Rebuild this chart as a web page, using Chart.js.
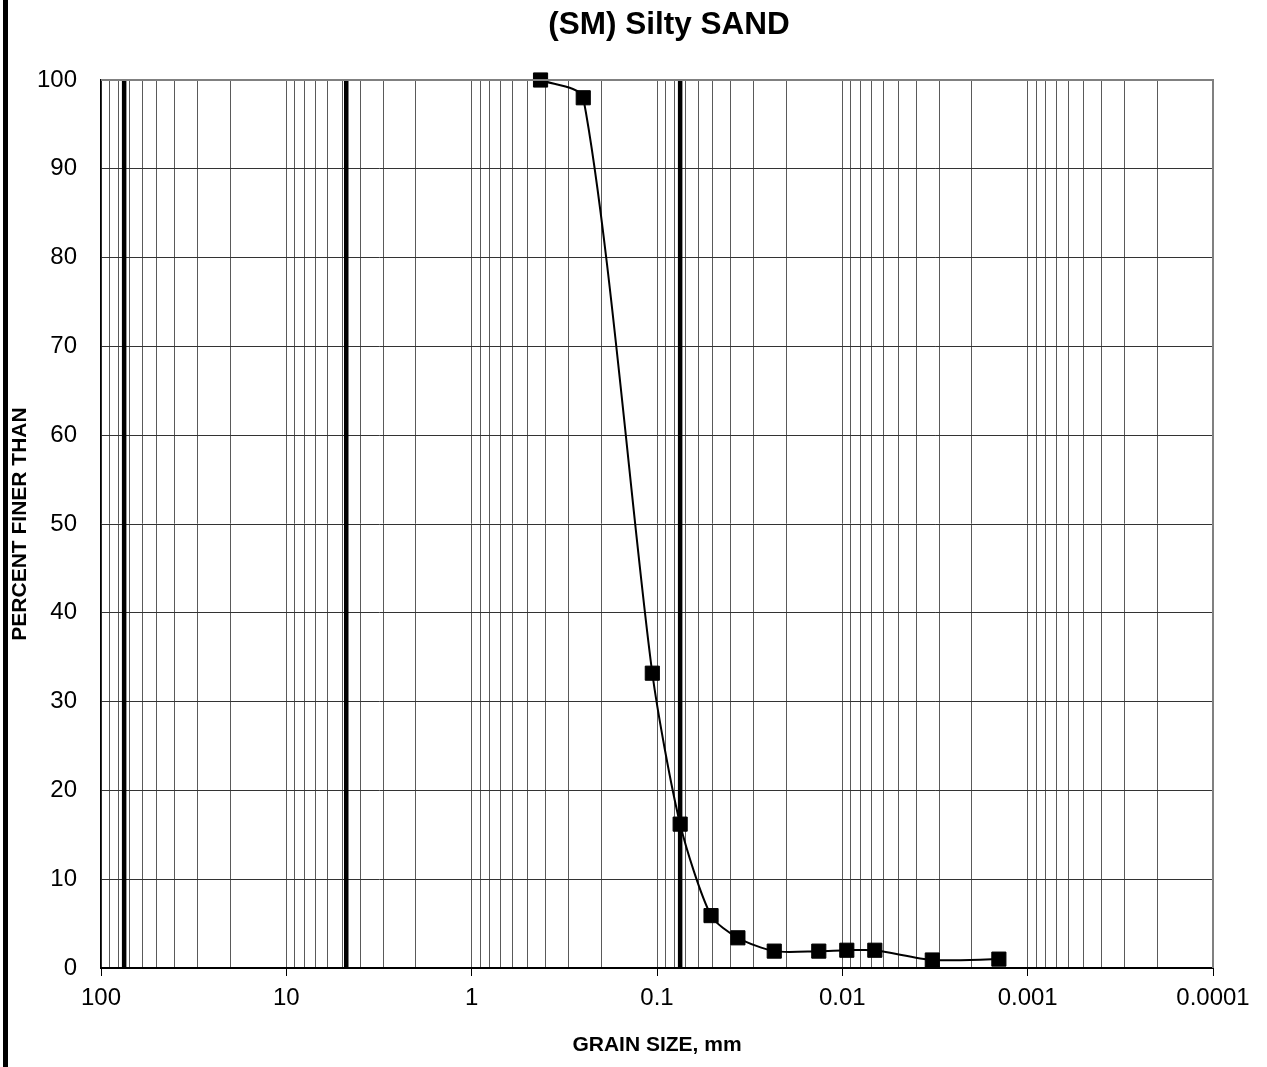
<!DOCTYPE html>
<html><head><meta charset="utf-8">
<script src="https://cdn.jsdelivr.net/npm/chart.js@4.4.1/dist/chart.umd.min.js"></script>
<style>html,body{margin:0;padding:0;background:#fff;overflow:hidden}</style>
</head><body>
<canvas id="c" width="1267" height="1067"></canvas>
<script>
// ---- data ----
const grainSizes   = [0.425, 0.25, 0.106, 0.075, 0.0511, 0.0366, 0.0233, 0.0134, 0.00946, 0.00668, 0.00327, 0.00143];
const percentFiner = [100, 98, 33.2, 16.2, 5.9, 3.4, 1.9, 1.9, 2.0, 2.0, 0.9, 1.0];
const sieveLines   = [75, 4.75, 0.075];
const xMajorTicks  = [100, 10, 1, 0.1, 0.01, 0.001, 0.0001];
const xTickLabels  = ['100', '10', '1', '0.1', '0.01', '0.001', '0.0001'];
const yTickValues  = [0, 10, 20, 30, 40, 50, 60, 70, 80, 90, 100];
const titleText = '(SM) Silty SAND';
const xTitleText = 'GRAIN SIZE, mm';
const yTitleText = 'PERCENT FINER THAN';

// full log grid (1..9 x each decade)
const gridValues = [];
xMajorTicks.slice(1).forEach(d => {
  for (let k = 1; k <= 9; k++) gridValues.push(parseFloat((d * k).toPrecision(6)));
});
gridValues.push(xMajorTicks[0]);

const FONT = "'Liberation Sans', Arial, sans-serif";

const sieveDatasets = sieveLines.map(v => ({
  data: [{x: v, y: yTickValues[0]}, {x: v, y: yTickValues[yTickValues.length - 1]}],
  borderColor: '#000', borderWidth: 4.5, pointRadius: 0, tension: 0, fill: false
}));

const framePlugin = {
  id: 'frame',
  beforeDraw(chart) {
    const ctx = chart.ctx;
    ctx.save();
    ctx.fillStyle = '#fff';
    ctx.fillRect(0, 0, chart.width, chart.height);
    ctx.fillStyle = '#000';
    ctx.fillRect(3, 0, 5, chart.height);
    ctx.restore();
  },
  afterDraw(chart) {
    const {ctx, chartArea: a} = chart;
    ctx.save();
    ctx.strokeStyle = '#808080';
    ctx.lineWidth = 2;
    ctx.beginPath();
    ctx.moveTo(a.left, a.top);
    ctx.lineTo(a.right, a.top);
    ctx.lineTo(a.right, a.bottom);
    ctx.stroke();
    // chart title
    ctx.fillStyle = '#000';
    ctx.font = "bold 31.5px " + FONT;
    ctx.textAlign = 'center';
    ctx.textBaseline = 'middle';
    ctx.fillText(titleText, (a.left + a.right) / 2 + 12, 25);
    ctx.restore();
  }
};

new Chart(document.getElementById('c'), {
  type: 'line',
  data: {
    datasets: [{
      data: grainSizes.map((g, i) => ({x: g, y: percentFiner[i]})),
      borderColor: '#000', borderWidth: 2, tension: 0.25, clip: false,
      pointStyle: 'rect', pointRadius: 10, pointBackgroundColor: '#000',
      pointBorderColor: '#000', pointBorderWidth: 1, fill: false
    }, ...sieveDatasets]
  },
  options: {
    responsive: false, animation: false, devicePixelRatio: 1,
    layout: {padding: {left: 0, right: 54, top: 80, bottom: 0}},
    plugins: {
      legend: {display: false}, tooltip: {enabled: false}, title: {display: false}
    },
    scales: {
      x: {
        type: 'logarithmic', min: 0.0001, max: 100, reverse: true,
        afterBuildTicks: s => { s.ticks = gridValues.map(v => ({value: v, major: xMajorTicks.includes(v)})); },
        afterFit: s => { s.height = 99; },
        ticks: {
          autoSkip: false, maxRotation: 0, minRotation: 0, padding: 8, color: '#000',
          font: {family: FONT, size: 24},
          callback: v => { const i = xMajorTicks.indexOf(v); return i >= 0 ? xTickLabels[i] : ''; }
        },
        grid: {
          color: '#5a5a5a', lineWidth: 1, tickLength: 8,
          tickColor: c => (c.tick && c.tick.major) ? '#000' : 'rgba(0,0,0,0)'
        },
        border: {color: '#000', width: 2},
        title: {display: true, text: xTitleText, color: '#000',
          font: {family: FONT, size: 21, weight: 'bold'}, padding: {top: 0, bottom: 9.4}}
      },
      y: {
        min: 0, max: 100,
        afterBuildTicks: s => { s.ticks = yTickValues.map(v => ({value: v})); },
        afterFit: s => { s.width = 101; },
        ticks: {padding: 24, color: '#000', font: {family: FONT, size: 24}},
        grid: {color: '#333', lineWidth: 1, drawTicks: false, tickLength: 0},
        border: {color: '#000', width: 1.5},
        title: {display: true, text: yTitleText, color: '#000',
          font: {family: FONT, size: 21, weight: 'bold'}, padding: {top: 8, bottom: 0}}
      }
    }
  },
  plugins: [framePlugin]
});
</script>
</body></html>
